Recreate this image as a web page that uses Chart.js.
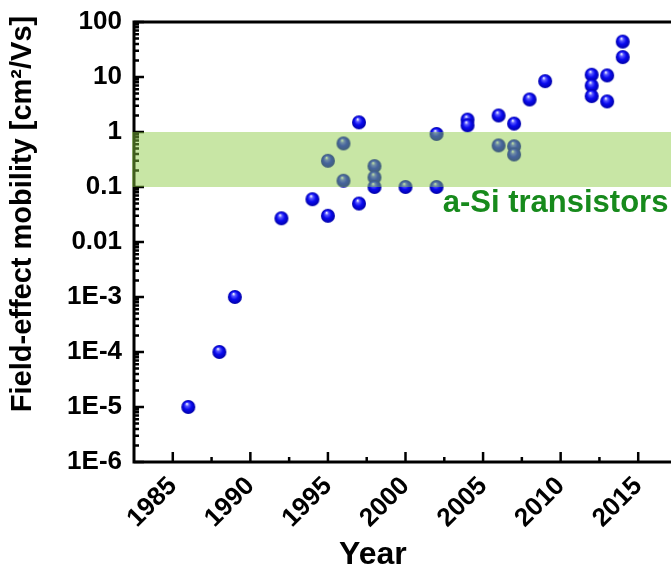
<!DOCTYPE html>
<html>
<head>
<meta charset="utf-8">
<script src="https://cdn.jsdelivr.net/npm/chart.js@4.4.1/dist/chart.umd.min.js"></script>
<style>
  html, body { margin: 0; padding: 0; background: #fff; overflow: hidden; }
  #wrap { width: 720px; height: 576px; }
</style>
</head>
<body>
<div id="wrap"><canvas id="chart" width="720" height="576"></canvas></div>
<script>
// --- DATA ---
const years = [1986, 1988, 1989, 1992, 1994, 1995, 1995, 1996, 1996, 1997, 1997,
               1998, 1998, 1998, 2000, 2002, 2002, 2004, 2004, 2006, 2006,
               2007, 2007, 2007, 2008, 2009, 2012, 2012, 2012, 2013, 2013, 2014, 2014];
const mobility = [1e-5, 1e-4, 1e-3, 0.027, 0.06, 0.03, 0.30, 0.62, 0.13, 1.5, 0.05,
                  0.24, 0.15, 0.1, 0.1, 0.92, 0.1, 1.68, 1.32, 2.0, 0.57,
                  1.42, 0.55, 0.39, 3.9, 8.4, 11, 7.0, 4.5, 10.7, 3.6, 44, 23];
const xTicks = [1985, 1990, 1995, 2000, 2005, 2010, 2015];
const yTickValues = [1e-6, 1e-5, 1e-4, 1e-3, 0.01, 0.1, 1, 10, 100];
const yTickLabels = ['1E-6', '1E-5', '1E-4', '1E-3', '0.01', '0.1', '1', '10', '100'];
const bandRange = [0.1, 1];
const bandLabel = 'a-Si transistors';
const xTitle = 'Year';
const yTitle = 'Field-effect mobility [cm²/Vs]';

const FONT = '"Liberation Sans", Arial, sans-serif';

// shaded blue ball used as point marker
function makeBall(r) {
  const c = document.createElement('canvas');
  const s = r * 2 + 2;
  c.width = c.height = s;
  const g = c.getContext('2d');
  const cx = s / 2, cy = s / 2;
  const grad = g.createRadialGradient(cx - r * 0.2, cy - r * 0.45, r * 0.05, cx, cy, r);
  grad.addColorStop(0, '#f0f4ff');
  grad.addColorStop(0.22, '#5a5aff');
  grad.addColorStop(0.55, '#0a0af0');
  grad.addColorStop(1, '#0000a8');
  g.fillStyle = grad;
  g.beginPath();
  g.arc(cx, cy, r, 0, Math.PI * 2);
  g.fill();
  return c;
}

const frame = {
  id: 'frame',
  beforeDatasetsDraw(chart) {
    const { ctx, chartArea: a, scales: { x, y } } = chart;
    ctx.save();
    ctx.strokeStyle = '#000';
    ctx.lineWidth = 2.5;
    ctx.beginPath();
    // inward ticks, major + minor
    yTickValues.forEach(v => {
      const py = y.getPixelForValue(v);
      ctx.moveTo(a.left, py); ctx.lineTo(a.left + 10, py);
      if (v < 100) {
        for (let k = 2; k <= 9; k++) {
          const pm = y.getPixelForValue(v * k);
          ctx.moveTo(a.left, pm); ctx.lineTo(a.left + 5, pm);
        }
      }
    });
    xTicks.forEach(v => {
      const px = x.getPixelForValue(v);
      ctx.moveTo(px, a.bottom); ctx.lineTo(px, a.bottom - 10);
      const pm = x.getPixelForValue(v + 2.5);
      ctx.moveTo(pm, a.bottom); ctx.lineTo(pm, a.bottom - 5);
    });
    ctx.stroke();
    ctx.lineWidth = 3;
    ctx.strokeRect(a.left, a.top, a.right - a.left, a.bottom - a.top);
    ctx.restore();
  },
  afterDatasetsDraw(chart) {
    const { ctx, chartArea: a, scales: { y } } = chart;
    const top = y.getPixelForValue(bandRange[1]);
    const bot = y.getPixelForValue(bandRange[0]);
    ctx.save();
    ctx.fillStyle = 'rgba(138, 202, 64, 0.47)';
    ctx.fillRect(a.left - 2, top, a.right - a.left + 2, bot - top);
    ctx.restore();
  },
  afterDraw(chart) {
    const { ctx, chartArea: a, scales: { x, y } } = chart;
    ctx.save();
    ctx.fillStyle = '#178a1c';
    ctx.font = 'bold 31px ' + FONT;
    ctx.textBaseline = 'alphabetic';
    ctx.fillText(bandLabel, x.getPixelForValue(2002.4), y.getPixelForValue(0.035));

    // axis titles
    ctx.fillStyle = '#000';
    ctx.textAlign = 'center';
    ctx.textBaseline = 'middle';
    ctx.font = 'bold 32px ' + FONT;
    ctx.fillText(xTitle, x.getPixelForValue(1997.9), 555);

    ctx.font = 'bold 29px ' + FONT;
    ctx.translate(23, 214);
    ctx.rotate(-Math.PI / 2);
    ctx.fillText(yTitle, 0, 0);
    ctx.restore();
  }
};

const ball = makeBall(7);

new Chart(document.getElementById('chart'), {
  type: 'scatter',
  data: {
    datasets: [{
      data: years.map((yr, i) => ({ x: yr, y: mobility[i] })),
      pointStyle: ball,
      pointRadius: 7,
      pointHoverRadius: 7
    }]
  },
  options: {
    responsive: false,
    animation: false,
    events: [],
    layout: { padding: { left: 0, top: 22, right: 43, bottom: 0 } },
    plugins: { legend: { display: false }, tooltip: { enabled: false } },
    scales: {
      x: {
        type: 'linear',
        min: 1982.5,
        max: 2017.5,
        grid: { display: false, drawTicks: false },
        border: { display: false },
        afterBuildTicks: s => { s.ticks = xTicks.map(v => ({ value: v })); },
        afterFit: s => { s.height = 114; s.paddingLeft = 0; s.paddingRight = 0; },
        ticks: {
          color: '#000',
          padding: 9,
          minRotation: 45,
          maxRotation: 45,
          font: { family: FONT, size: 26, weight: 'bold' },
          callback: v => String(v)
        }
      },
      y: {
        type: 'logarithmic',
        min: 1e-6,
        max: 100,
        grid: { display: false, drawTicks: false },
        border: { display: false },
        afterBuildTicks: s => { s.ticks = yTickValues.map(v => ({ value: v })); },
        afterFit: s => { s.width = 134; s.paddingTop = 0; s.paddingBottom = 0; },
        ticks: {
          color: '#000',
          padding: 12,
          autoSkip: false,
          font: { family: FONT, size: 26, weight: 'bold' },
          callback: (v, i) => yTickLabels[i]
        }
      }
    }
  },
  plugins: [frame]
});
</script>
</body>
</html>
